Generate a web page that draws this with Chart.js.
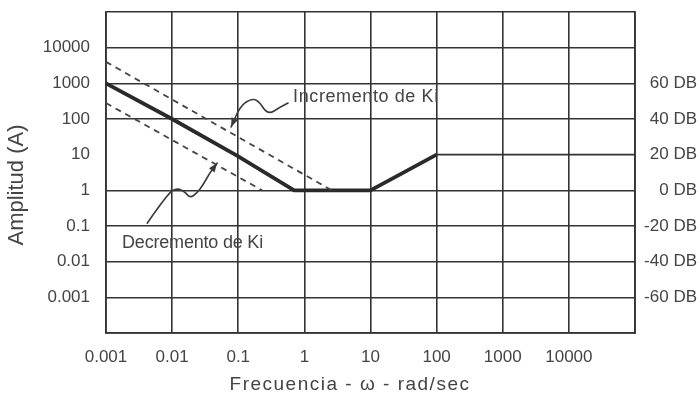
<!DOCTYPE html>
<html lang="es">
<head>
<meta charset="UTF-8" />
<title>Amplitud vs Frecuencia</title>
<script src="https://cdn.jsdelivr.net/npm/chart.js"></script>
<style>
  body { margin: 0; background: #fff; }
  #wrap { width: 700px; height: 401px; }
</style>
</head>
<body>
<div id="wrap"><canvas id="bode" width="700" height="401"></canvas></div>
<script>
// ticks de los ejes
const freqTicks = [0.001, 0.01, 0.1, 1, 10, 100, 1000, 10000, 100000];
const freqLabels = ['0.001', '0.01', '0.1', '1', '10', '100', '1000', '10000', ''];
const ampTicks = [0.0001, 0.001, 0.01, 0.1, 1, 10, 100, 1000, 10000, 100000];
const ampLabels = ['', '0.001', '0.01', '0.1', '1', '10', '100', '1000', '10000', ''];
const dbLabels = ['', '-60 DB', '-40 DB', '-20 DB', '0 DB', '20 DB', '40 DB', '60 DB', '', ''];

// curvas
const nominalFreq = [0.001, 0.01, 0.1, 0.7, 10, 100];
const nominalAmp = [1000, 100, 9, 1, 1, 10];
const incrFreq = [0.001, 2.6];
const incrAmp = [4000, 1];
const decrFreq = [0.001, 0.23];
const decrAmp = [280, 1];

const FONT = '"Liberation Sans", Arial, sans-serif';
const LINE = '#333';
const TEXT = '#444';

function pts(xs, ys) {
  return xs.map((v, i) => ({ x: v, y: ys[i] }));
}

// flechas onduladas de las notas, en coordenadas de datos
const notes = [
  {
    text: 'Incremento de Ki', at: [0.675, 414], spacing: '0.6px',
    path: [[0.566, 281], [0.43, 217], [0.28, 130], [0.2, 341], [0.151, 364], [0.106, 217], [0.078, 60]]
  },
  {
    text: 'Decremento de Ki', at: [0.00175, 0.033], spacing: '-0.2px',
    path: [[0.0042, 0.12], [0.0087, 0.84], [0.0119, 1.16], [0.0157, 0.9], [0.0187, 0.61],
           [0.0238, 0.84], [0.0293, 1.41], [0.037, 3.06], [0.048, 5.8]]
  }
];

const notasPlugin = {
  id: 'notas',
  afterDraw(chart) {
    const { ctx, scales: { x, y }, chartArea } = chart;
    ctx.save();

    // linea de 10 solo a la derecha de w=100 (como en la figura)
    ctx.strokeStyle = LINE;
    ctx.lineWidth = 1.6;
    ctx.beginPath();
    ctx.moveTo(x.getPixelForValue(100), y.getPixelForValue(10));
    ctx.lineTo(chartArea.right, y.getPixelForValue(10));
    ctx.stroke();

    notes.forEach(n => {
      const p = n.path.map(q => [x.getPixelForValue(q[0]), y.getPixelForValue(q[1])]);
      ctx.strokeStyle = '#3a3a3a';
      ctx.lineWidth = 1.6;
      ctx.lineJoin = 'round';
      ctx.lineCap = 'round';
      ctx.beginPath();
      ctx.moveTo(p[0][0], p[0][1]);
      for (let i = 1; i < p.length - 1; i++) {
        const mx = (p[i][0] + p[i + 1][0]) / 2;
        const my = (p[i][1] + p[i + 1][1]) / 2;
        ctx.quadraticCurveTo(p[i][0], p[i][1], mx, my);
      }
      const tip = p[p.length - 1];
      ctx.lineTo(tip[0], tip[1]);
      ctx.stroke();

      // punta de flecha
      const prev = p[p.length - 2];
      const a = Math.atan2(tip[1] - prev[1], tip[0] - prev[0]);
      ctx.fillStyle = '#3a3a3a';
      ctx.beginPath();
      ctx.moveTo(tip[0], tip[1]);
      ctx.lineTo(tip[0] - 9 * Math.cos(a) + 3.5 * Math.sin(a), tip[1] - 9 * Math.sin(a) - 3.5 * Math.cos(a));
      ctx.lineTo(tip[0] - 9 * Math.cos(a) - 3.5 * Math.sin(a), tip[1] - 9 * Math.sin(a) + 3.5 * Math.cos(a));
      ctx.closePath();
      ctx.fill();

      ctx.fillStyle = TEXT;
      ctx.font = '18px ' + FONT;
      ctx.letterSpacing = n.spacing;
      ctx.textAlign = 'left';
      ctx.textBaseline = 'middle';
      ctx.fillText(n.text, x.getPixelForValue(n.at[0]), y.getPixelForValue(n.at[1]));
    });

    // titulos de ejes
    ctx.fillStyle = TEXT;
    ctx.textAlign = 'center';
    ctx.textBaseline = 'middle';
    ctx.font = '19px ' + FONT;
    ctx.letterSpacing = '1.5px';
    ctx.fillText('Frecuencia - \u03c9 - rad/sec', 350, 385);
    ctx.letterSpacing = '0px';
    ctx.translate(17, 185);
    ctx.rotate(-Math.PI / 2);
    ctx.font = '22px ' + FONT;
    ctx.fillText('Amplitud (A)', 0, 0);
    ctx.restore();
  }
};

function noPad(s) {
  s.paddingTop = 0;
  s.paddingBottom = 0;
  s.paddingLeft = 0;
  s.paddingRight = 0;
}

new Chart(document.getElementById('bode'), {
  type: 'line',
  data: {
    datasets: [
      {
        data: pts(incrFreq, incrAmp),
        borderColor: '#444', borderWidth: 1.8, borderDash: [6, 5],
        pointRadius: 0, tension: 0
      },
      {
        data: pts(decrFreq, decrAmp),
        borderColor: '#444', borderWidth: 1.8, borderDash: [6, 5],
        pointRadius: 0, tension: 0
      },
      {
        data: pts(nominalFreq, nominalAmp),
        borderColor: '#2a2a2a', borderWidth: 3.8,
        pointRadius: 0, tension: 0
      }
    ]
  },
  options: {
    responsive: false,
    animation: false,
    events: [],
    layout: { autoPadding: false, padding: { top: 12, right: 3, left: 0, bottom: 0 } },
    plugins: { legend: { display: false }, tooltip: { enabled: false } },
    scales: {
      x: {
        type: 'logarithmic',
        min: 0.001, max: 100000,
        afterBuildTicks: s => { s.ticks = freqTicks.map(v => ({ value: v })); },
        afterFit: s => { s.height = 68; noPad(s); },
        grid: { color: LINE, lineWidth: 1.6, drawTicks: false },
        border: { color: LINE, width: 1.8 },
        ticks: {
          autoSkip: false, maxRotation: 0, padding: 14,
          color: TEXT, font: { family: FONT, size: 17 },
          callback: (v, i) => freqLabels[i]
        }
      },
      y: {
        type: 'logarithmic',
        position: 'left',
        min: 0.0001, max: 100000,
        afterBuildTicks: s => { s.ticks = ampTicks.map(v => ({ value: v })); },
        afterFit: s => { s.width = 106; noPad(s); },
        grid: {
          color: c => (c.tick && c.tick.value === 10 ? 'rgba(0,0,0,0)' : LINE),
          lineWidth: 1.6, drawTicks: false
        },
        border: { color: LINE, width: 1.8 },
        ticks: {
          autoSkip: false, padding: 16,
          color: TEXT, font: { family: FONT, size: 17 },
          callback: (v, i) => ampLabels[i]
        }
      },
      y2: {
        type: 'logarithmic',
        position: 'right',
        min: 0.0001, max: 100000,
        afterBuildTicks: s => { s.ticks = ampTicks.map(v => ({ value: v })); },
        afterFit: s => { s.width = 62; noPad(s); },
        grid: { drawOnChartArea: false, drawTicks: false },
        border: { color: LINE, width: 1.8 },
        ticks: {
          autoSkip: false, crossAlign: 'far', padding: 4,
          color: TEXT, font: { family: FONT, size: 17 },
          callback: (v, i) => dbLabels[i]
        }
      }
    }
  },
  plugins: [notasPlugin]
});
</script>
</body>
</html>
